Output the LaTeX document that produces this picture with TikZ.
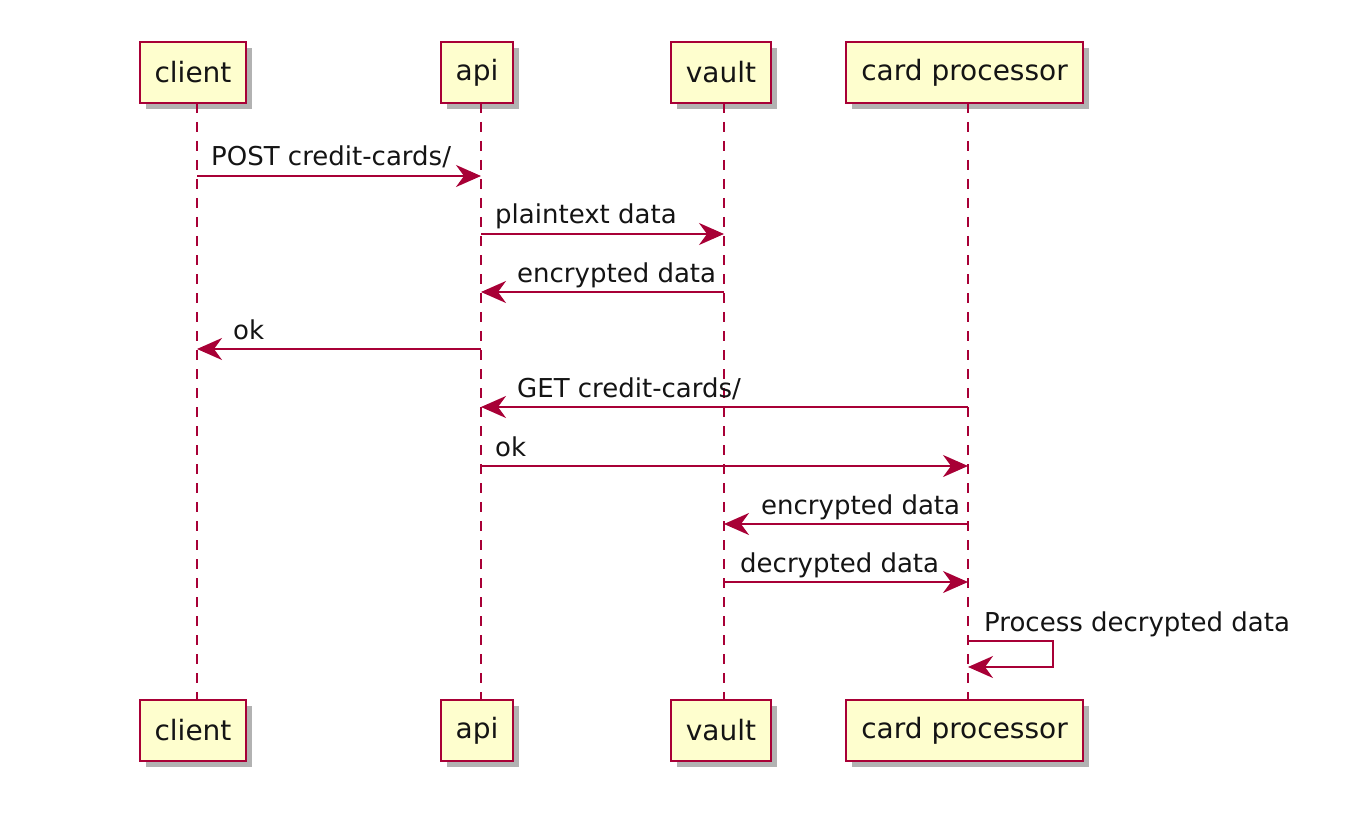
\documentclass[tikz,border=0pt]{standalone}
\usepackage{fontspec}
\setmainfont{DejaVu Sans}
\usetikzlibrary{arrows.meta,shadows}

\definecolor{umlred}{HTML}{A80036}
\definecolor{umlfill}{HTML}{FEFECE}
\definecolor{umltext}{HTML}{141414}

\tikzset{
	party/.style={draw=umlred, fill=umlfill, line width=2pt, text=umltext,
		inner xsep=15pt, minimum height=61pt, font=\fontsize{28}{34}\selectfont,
		drop shadow={shadow xshift=6pt, shadow yshift=-6pt, fill=black, opacity=0.3}},
	life/.style={draw=umlred, line width=2pt, dash pattern=on 10pt off 9pt},
	msg/.style={draw=umlred, line width=2pt,
		-{Stealth[length=25pt, width=22pt, inset=8pt]}},
	lbl/.style={anchor=base west, inner sep=0pt, text=umltext,
		font=\fontsize{26}{30}\selectfont}
}

\begin{document}
\begin{tikzpicture}[x=1pt, y=-1pt]

	\useasboundingbox (0,0) rectangle (1356,826);

	% participants, top and bottom
	\node[party] (client) at (193,72.5) {client};
	\node[party] (api) at (477,72.5) {api};
	\node[party] (vault) at (721,72.5) {vault};
	\node[party] (cardproc) at (964.5,72.5) {card processor};

	\node[party] (clientB) at (193,730.5) {client};
	\node[party] (apiB) at (477,730.5) {api};
	\node[party] (vaultB) at (721,730.5) {vault};
	\node[party] (cardprocB) at (964.5,730.5) {card processor};

	% lifelines
	\draw[life] (197,103) -- (197,700);
	\draw[life] (481,103) -- (481,700);
	\draw[life] (724,103) -- (724,700);
	\draw[life] (968,103) -- (968,700);

	% messages
	\draw[msg] (197,176) -- (481,176);
	\node[lbl] (m1) at (211,166) {POST credit-cards/};

	\draw[msg] (481,234) -- (724,234);
	\node[lbl] (m2) at (495,224) {plaintext data};

	\draw[msg] (724,292) -- (481,292);
	\node[lbl] (m3) at (517,282) {encrypted data};

	\draw[msg] (481,349) -- (197,349);
	\node[lbl] (m4) at (233,339) {ok};

	\draw[msg] (968,407) -- (481,407);
	\node[lbl] (m5) at (517,397) {GET credit-cards/};

	\draw[msg] (481,466) -- (968,466);
	\node[lbl] (m6) at (495,456) {ok};

	\draw[msg] (968,524) -- (724,524);
	\node[lbl] (m7) at (761,514) {encrypted data};

	\draw[msg] (724,582) -- (968,582);
	\node[lbl] (m8) at (740,572) {decrypted data};

	% self message
	\draw[msg] (968,641) -- (1053,641) -- (1053,667) -- (968,667);
	\node[lbl] (m9) at (984,631) {Process decrypted data};

\end{tikzpicture}
\end{document}
